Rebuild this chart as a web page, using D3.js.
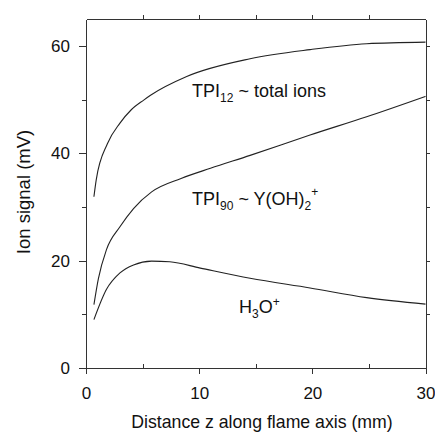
<!DOCTYPE html>
<html>
<head>
<meta charset="utf-8">
<script src="https://cdn.jsdelivr.net/npm/d3@7"></script>
<style>
  body { margin: 0; background: #fff; }
  svg { display: block; }
  text { font-family: "Liberation Sans", Arial, sans-serif; fill: #111; }
  .axis path, .axis line { stroke: #333; stroke-width: 1; shape-rendering: crispEdges; }
  .axis text { font-size: 17px; }
</style>
</head>
<body>
<svg width="435" height="438"></svg>
<script>
(function() {

// distance along the flame axis (mm) and ion signal (mV)
var zTotal   = [0.7, 0.9, 1.9, 3.0, 4.0, 5.1, 5.7, 8.9, 14.5, 19.8, 24.8, 30];
var vTotal   = [31.9, 35.0, 41.8, 45.6, 48.1, 49.9, 50.8, 54.3, 57.6, 59.3, 60.4, 60.7];

var zYOH     = [0.7, 1.1, 1.8, 3.0, 4.2, 5.8, 8.4, 11.0, 14.5, 19.8, 24.8, 30];
var vYOH     = [11.8, 16.7, 22.0, 26.3, 29.7, 32.8, 35.3, 37.2, 39.6, 43.4, 46.8, 50.6];

var zH3O     = [0.7, 1.8, 3.0, 4.2, 5.8, 7.4, 10.1, 14.5, 19.8, 24.8, 30];
var vH3O     = [9.0, 14.6, 17.7, 19.2, 19.9, 19.8, 18.6, 16.7, 14.9, 13.1, 11.9];

var xTicks      = [0, 10, 20, 30];
var xMinorTicks = [5, 15, 25];
var yTicks      = [0, 20, 40, 60];
var yMinorTicks = [10, 30, 50];

var svg = d3.select("svg"),
    margin = {top: 19, right: 9.5, bottom: 70, left: 86},
    width = +svg.attr("width"),
    height = +svg.attr("height");

var x = d3.scaleLinear().domain([0, 30]).range([margin.left, width - margin.right]);
var y = d3.scaleLinear().domain([0, 65]).range([height - margin.bottom, margin.top]);

function zip(zs, vs) {
    return zs.map(function(z, i) { return {z: z, v: vs[i]}; });
}

var series = [zip(zTotal, vTotal), zip(zYOH, vYOH), zip(zH3O, vH3O)];

// frame + ticks
svg.append("g").attr("class", "axis")
    .attr("transform", "translate(" + margin.left + ",0)")
    .call(d3.axisLeft(y).tickValues(yTicks).tickSize(7).tickSizeOuter(0).tickPadding(9));
svg.append("g").attr("class", "axis")
    .attr("transform", "translate(" + margin.left + ",0)")
    .call(d3.axisLeft(y).tickValues(yMinorTicks).tickSize(4).tickFormat(""))
    .select(".domain").remove();

svg.append("g").attr("class", "axis")
    .attr("transform", "translate(0," + y(0) + ")")
    .call(d3.axisBottom(x).tickValues(xTicks).tickSize(6).tickSizeOuter(0).tickPadding(13));
svg.append("g").attr("class", "axis")
    .attr("transform", "translate(0," + y(0) + ")")
    .call(d3.axisBottom(x).tickValues(xMinorTicks).tickSize(-4).tickFormat(""))
    .select(".domain").remove();

svg.append("g").attr("class", "axis")
    .attr("transform", "translate(0," + y(65) + ")")
    .call(d3.axisTop(x).tickValues(xMinorTicks.concat([10, 20])).tickSize(4).tickSizeOuter(0).tickFormat(""));
svg.append("g").attr("class", "axis")
    .attr("transform", "translate(" + x(30) + ",0)")
    .call(d3.axisRight(y).tickValues([10, 20, 30, 40, 50, 60]).tickSize(4).tickSizeOuter(0).tickFormat(""));

// curves
var line = d3.line()
    .x(function(d) { return x(d.z); })
    .y(function(d) { return y(d.v); })
    .curve(d3.curveMonotoneX);

svg.append("g")
    .selectAll("path")
    .data(series)
    .enter()
    .append("path")
    .attr("d", line)
    .attr("fill", "none")
    .attr("stroke", "#222")
    .attr("stroke-width", 1.1);

// axis titles
svg.append("text")
    .attr("x", 262)
    .attr("y", 428)
    .attr("text-anchor", "middle")
    .style("font-size", "17.7px")
    .text("Distance z along flame axis (mm)");

svg.append("text")
    .attr("transform", "translate(30,192) rotate(-90)")
    .attr("text-anchor", "middle")
    .style("font-size", "18.5px")
    .text("Ion signal (mV)");

// curve labels
var t1 = svg.append("text").attr("x", 192).attr("y", 97).style("font-size", "18px");
t1.append("tspan").text("TPI");
t1.append("tspan").attr("dy", 5).style("font-size", "12px").text("12");
t1.append("tspan").attr("dy", -5).text(" ~ total ions");

var t2 = svg.append("text").attr("x", 192).attr("y", 205).style("font-size", "18px");
t2.append("tspan").text("TPI");
t2.append("tspan").attr("dy", 5).style("font-size", "12px").text("90");
t2.append("tspan").attr("dy", -5).text(" ~ Y(OH)");
t2.append("tspan").attr("dy", 5).style("font-size", "12px").text("2");
t2.append("tspan").attr("dy", -14).style("font-size", "12px").text("+");

var t3 = svg.append("text").attr("x", 239).attr("y", 313).style("font-size", "18px");
t3.append("tspan").text("H");
t3.append("tspan").attr("dy", 5).style("font-size", "12px").text("3");
t3.append("tspan").attr("dy", -5).text("O");
t3.append("tspan").attr("dy", -7).style("font-size", "12px").text("+");

})();
</script>
</body>
</html>
